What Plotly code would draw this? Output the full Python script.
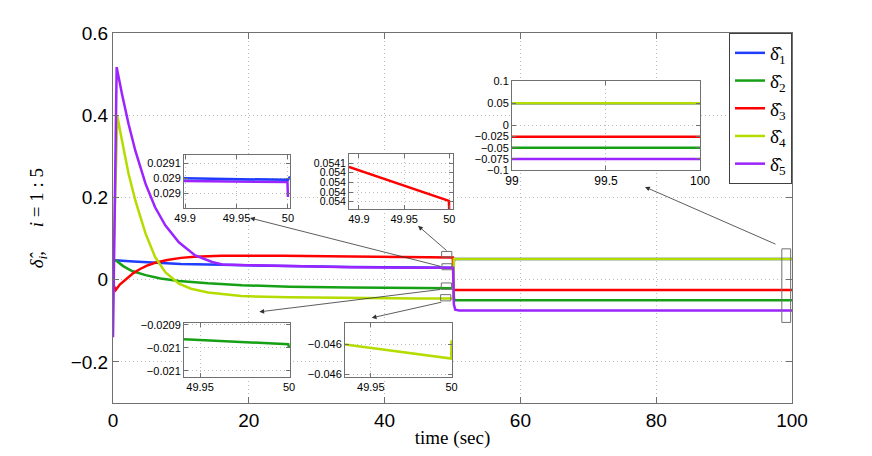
import plotly.graph_objects as go

# ---- main curves ----
t1 = [0, 0.3, 3, 6.2, 10, 16, 26, 35, 45, 49.95, 50.1, 50.25, 100]
d1 = [0.047, 0.047, 0.044, 0.041, 0.038, 0.036, 0.033, 0.031, 0.0295, 0.029, 0.029, 0.05, 0.05]

t2 = [0, 0.4, 1.5, 2.8, 4.8, 7, 9.7, 14, 19, 26, 35, 45, 49.95, 50.1, 50.25, 100]
d2 = [0.047, 0.047, 0.033, 0.021, 0.011, 0.003, -0.003, -0.009, -0.0135, -0.017, -0.019, -0.0205, -0.0209, -0.0209, -0.05, -0.05]

t3 = [0, 0.4, 1, 2, 3, 4, 5, 6.2, 8, 10, 12, 16, 20, 25, 35, 45, 49.9, 50.05, 50.15, 100]
d3 = [-0.01, -0.025, -0.012, 0.003, 0.016, 0.026, 0.034, 0.041, 0.048, 0.053, 0.056, 0.058, 0.0585, 0.058, 0.0565, 0.0548, 0.0541, 0.054, -0.025, -0.025]

t4 = [0, 0.63, 1.33, 2.3, 3.3, 4.8, 6.2, 7.7, 9.7, 11.5, 14, 18.9, 25.8, 35, 45, 49.95, 50.1, 50.2, 100]
d4 = [0.0, 0.398, 0.338, 0.257, 0.192, 0.112, 0.055, 0.018, -0.010, -0.022, -0.031, -0.040, -0.043, -0.045, -0.0459, -0.046, -0.046, 0.05, 0.05]

t5 = [0, 0.54, 1.33, 2.3, 3.3, 4.8, 6.2, 7.7, 9.7, 12.1, 14.6, 16.1, 20, 25.8, 35, 45, 49.95, 50.1, 50.2, 50.4, 51, 100]
d5 = [-0.14, 0.517, 0.451, 0.378, 0.313, 0.233, 0.176, 0.132, 0.091, 0.059, 0.043, 0.037, 0.035, 0.033, 0.0305, 0.0292, 0.029, 0.029, -0.06, -0.073, -0.075, -0.075]

# ---- zoomed views ----
ta1 = [49.899, 49.999, 50.0, 50.002]
va1 = [0.02905, 0.029045, 0.029045, 0.029056]
ta5 = [49.899, 49.9995, 50.0]
va5 = [0.029041, 0.029038, 0.028988]

tb3 = [49.889, 49.9995, 50.0]
vb3 = [0.054092, 0.054022, 0.05399]

tc = [99, 100]
vc = {1: [0.05, 0.05], 2: [-0.05, -0.05], 3: [-0.025, -0.025], 4: [0.05, 0.05], 5: [-0.075, -0.075]}

td2 = [49.941, 49.9995, 50.0]
vd2 = [-0.020931, -0.020942, -0.02095]

te4 = [49.934, 49.9998, 50.0]
ve4 = [-0.04595, -0.045974, -0.045943]

colors = {1: "#1f3cff", 2: "#16a016", 3: "#ff0000", 4: "#b4dc00", 5: "#9b24ff"}
HAT_DELTA = "\u03b4\u0302"
names = {i: "%s<sub>%d</sub>" % (HAT_DELTA, i) for i in range(1, 6)}
serif = "Liberation Serif, DejaVu Serif, serif"

fig = go.Figure()
for i, (t, d) in enumerate([(t1, d1), (t2, d2), (t3, d3), (t4, d4), (t5, d5)], start=1):
    fig.add_trace(go.Scatter(x=t, y=d, mode="lines", name=names[i],
                             line=dict(color=colors[i], width=2.5)))

fig.add_trace(go.Scatter(x=ta5, y=va5, xaxis="x2", yaxis="y2", mode="lines",
                         line=dict(color=colors[5], width=2.5), showlegend=False))
fig.add_trace(go.Scatter(x=ta1, y=va1, xaxis="x2", yaxis="y2", mode="lines",
                         line=dict(color=colors[1], width=2.5), showlegend=False))
fig.add_trace(go.Scatter(x=tb3, y=vb3, xaxis="x3", yaxis="y3", mode="lines",
                         line=dict(color=colors[3], width=2.5), showlegend=False))
for i in [1, 2, 3, 4, 5]:
    fig.add_trace(go.Scatter(x=tc, y=vc[i], xaxis="x4", yaxis="y4", mode="lines",
                             line=dict(color=colors[i], width=2.5), showlegend=False))
fig.add_trace(go.Scatter(x=td2, y=vd2, xaxis="x5", yaxis="y5", mode="lines",
                         line=dict(color=colors[2], width=2.5), showlegend=False))
fig.add_trace(go.Scatter(x=te4, y=ve4, xaxis="x6", yaxis="y6", mode="lines",
                         line=dict(color=colors[4], width=2.5), showlegend=False))

axis_style = dict(showline=True, mirror="ticks", linecolor="#707070", linewidth=1,
                  ticks="inside", ticklen=4, tickcolor="#707070",
                  showgrid=True, gridcolor="#bdbdbd", griddash="1px,3px", gridwidth=1,
                  zeroline=False, color="black", automargin=False)
inset_font = dict(family="Liberation Sans, Arial, sans-serif", size=11, color="black")
main_font = dict(family="Liberation Sans, Arial, sans-serif", size=19, color="black")

# the page body adds an 8px offset, so margins are set to land the axes where the reference has them
fig.update_layout(
    width=872, height=456,
    margin=dict(l=105, r=88, t=25, b=61, autoexpand=False),
    paper_bgcolor="white", plot_bgcolor="white",
    xaxis=dict(axis_style, range=[0, 100], tickvals=[0, 20, 40, 60, 80, 100],
               tickfont=main_font, ticklen=6,
               title=dict(text="time (sec)", standoff=0,
                          font=dict(family=serif, size=19))),
    yaxis=dict(axis_style, range=[-0.3, 0.6], tickvals=[-0.2, 0, 0.2, 0.4, 0.6],
               tickfont=main_font, ticklen=6),
    xaxis2=dict(axis_style, domain=[0.1046, 0.2607], anchor="y2", range=[49.899, 50.002],
                tickvals=[49.9, 49.95, 50], ticktext=["49.9", "49.95", "50"], tickfont=inset_font),
    yaxis2=dict(axis_style, domain=[0.527, 0.6703], anchor="x2", range=[0.028951, 0.029128],
                tickvals=[0.029, 0.02905, 0.0291], ticktext=["0.029", "0.029", "0.0291"],
                tickfont=inset_font),
    xaxis3=dict(axis_style, domain=[0.3476, 0.5007], anchor="y3", range=[49.889, 50.004],
                tickvals=[49.9, 49.95, 50], ticktext=["49.9", "49.95", "50"], tickfont=inset_font),
    yaxis3=dict(axis_style, domain=[0.5243, 0.673], anchor="x3", range=[0.054005, 0.054119],
                tickvals=[0.05402, 0.05404, 0.05406, 0.05408, 0.0541],
                ticktext=["0.054", "0.054", "0.054", "0.054", "0.0541"],
                tickfont=dict(inset_font, size=10.5)),
    xaxis4=dict(axis_style, domain=[0.5876, 0.8645], anchor="y4", range=[99, 100],
                tickvals=[99, 99.5, 100], ticktext=["99", "99.5", "100"],
                tickfont=dict(inset_font, size=12)),
    yaxis4=dict(axis_style, domain=[0.6297, 0.8703], anchor="x4", range=[-0.1, 0.1],
                tickvals=[-0.1, -0.075, -0.05, -0.025, 0, 0.05, 0.1],
                ticktext=["−0.1", "−0.075", "−0.05", "−0.025", "0", "0.05", "0.1"],
                tickfont=inset_font),
    xaxis5=dict(axis_style, domain=[0.1046, 0.2607], anchor="y5", range=[49.941, 50.0005],
                tickvals=[49.95, 50], ticktext=["49.95", "50"], tickfont=inset_font),
    yaxis5=dict(axis_style, domain=[0.0703, 0.2162], anchor="x5", range=[-0.021013, -0.020896],
                tickvals=[-0.021, -0.02095, -0.0209], ticktext=["−0.021", "−0.021", "−0.0209"],
                tickfont=inset_font),
    xaxis6=dict(axis_style, domain=[0.3417, 0.4993], anchor="y6", range=[49.934, 50.0003],
                tickvals=[49.95, 50], ticktext=["49.95", "50"], tickfont=inset_font),
    yaxis6=dict(axis_style, domain=[0.0703, 0.2162], anchor="x6", range=[-0.046005, -0.045914],
                tickvals=[-0.046, -0.04595], ticktext=["−0.046", "−0.046"], tickfont=inset_font),
    legend=dict(x=1, y=1, xanchor="right", yanchor="top", bgcolor="white",
                bordercolor="#404040", borderwidth=1, itemwidth=30,
                font=dict(family=serif, size=19, color="black")),
    showlegend=True,
)

# zoom boxes on the main axes
boxes = [(48.4, 49.9, 0.055, 0.0686), (48.45, 49.9, 0.0242, 0.0388),
         (48.35, 49.85, -0.0235, -0.008), (48.25, 49.75, -0.0516, -0.0364),
         (98.5, 99.8, -0.104, 0.075)]
for x0, x1, y0, y1 in boxes:
    fig.add_shape(type="rect", xref="x", yref="y", x0=x0, x1=x1, y0=y0, y1=y1,
                  line=dict(color="#707070", width=1), fillcolor="rgba(0,0,0,0)")

# arrows from the boxes to the zoomed views: (tail t, tail v, head t, head v)
arrows = [(48.45, 0.0315, 20.18, 0.150), (49.34, 0.0679, 44.92, 0.131),
          (48.41, -0.0235, 21.55, -0.0783), (48.56, -0.0541, 38.10, -0.0929),
          (97.79, 0.0848, 78.35, 0.2255)]
for ax_, ay_, hx, hy in arrows:
    fig.add_annotation(x=hx, y=hy, ax=ax_, ay=ay_, xref="x", yref="y", axref="x", ayref="y",
                       text="", showarrow=True, arrowhead=2, arrowsize=1.2,
                       arrowwidth=0.8, arrowcolor="#333333")

fig.add_annotation(x=-0.11, y=0.5, xref="paper", yref="paper", textangle=-90,
                   xanchor="center", yanchor="middle",
                   text="<i>%s<sub>i</sub></i>,     <i>i</i> = 1 : 5" % HAT_DELTA, showarrow=False,
                   font=dict(family=serif, size=19, color="black"))

fig.write_html("out.html")
